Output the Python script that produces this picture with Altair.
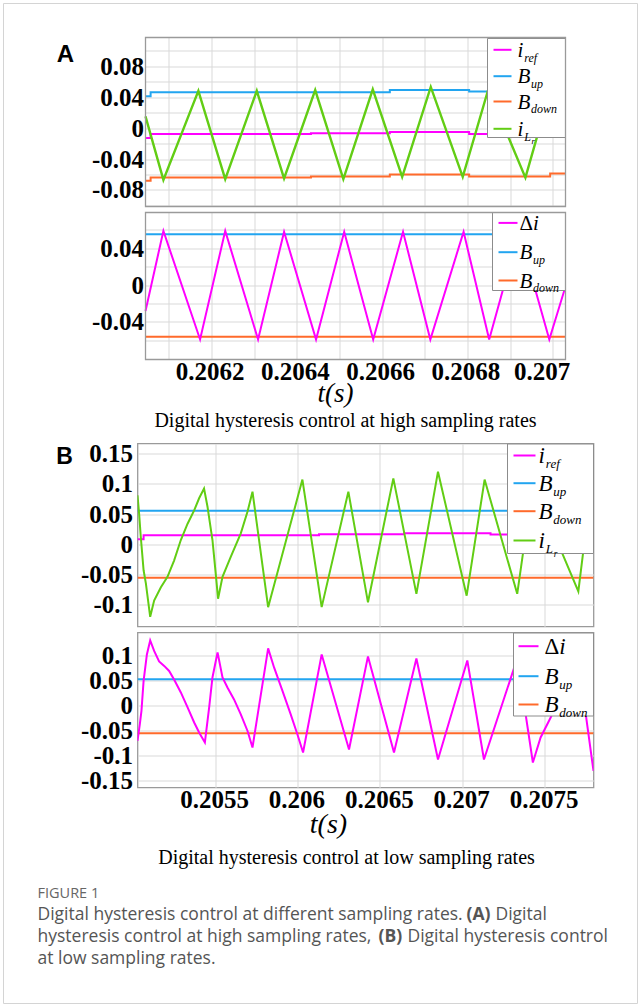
import altair as alt
import pandas as pd

# ---------------- data ----------------
# Panel A, upper plot
A_T_ILR = [0.206045, 0.206087, 0.206169, 0.206232, 0.206306, 0.206370, 0.206443, 0.206509,
           0.206578, 0.206647, 0.206714, 0.206789, 0.206849, 0.206936, 0.206994, 0.207031]
A_ILR = [0.015, -0.067, 0.048, -0.066, 0.048, -0.065, 0.049, -0.066,
         0.050, -0.063, 0.053, -0.063, 0.050, -0.064, 0.048, -0.005]
A_T_STEP = [0.206045, 0.206057, 0.206433, 0.206618, 0.206804, 0.206994, 0.207031]
A_IREF = [-0.013, -0.0076, -0.0067, -0.0053, -0.0076, -0.0076, -0.0076]
A_BUP = [0.041, 0.046, 0.046, 0.049, 0.047, 0.047, 0.047]
A_BDOWN = [-0.068, -0.064, -0.0627, -0.060, -0.0627, -0.0587, -0.0587]

# Panel A, lower plot
A_T_DI = [0.206045, 0.206087, 0.206173, 0.206232, 0.206309, 0.206370, 0.206445, 0.206511,
          0.206579, 0.206649, 0.206713, 0.206791, 0.206851, 0.206921, 0.206992, 0.207031]
A_DI = [-0.028, 0.059, -0.059, 0.059, -0.059, 0.058, -0.059, 0.058,
        -0.059, 0.058, -0.059, 0.058, -0.059, 0.058, -0.059, 0.0]
A_T_BAND = [0.206045, 0.207031]
A_BUP2 = [0.0553, 0.0553]
A_BDOWN2 = [-0.056, -0.056]

# Panel B, upper plot
B_T_ILR = [0.205029, 0.205039, 0.205049, 0.205066, 0.205080, 0.205106, 0.205130, 0.205171,
           0.205211, 0.205251, 0.205292, 0.205333, 0.205373, 0.205403, 0.205433, 0.205454,
           0.205484, 0.205504, 0.205518, 0.205545, 0.205595, 0.205656, 0.205697, 0.205727,
           0.205822, 0.206030, 0.206147, 0.206309, 0.206428, 0.206582, 0.206722, 0.206853,
           0.207027, 0.207136, 0.207334, 0.207429, 0.207705, 0.207797]
B_ILR = [0.081, 0.050, 0.012, -0.043, -0.065, -0.120, -0.093, -0.071,
         -0.054, -0.027, 0.007, 0.034, 0.056, 0.076, 0.092, 0.062,
         0.007, -0.049, -0.090, -0.054, -0.021, 0.018, 0.054, 0.087,
         -0.104, 0.107, -0.104, 0.087, -0.096, 0.109, -0.082, 0.120,
         -0.085, 0.107, -0.082, 0.100, -0.078, 0.125]
B_T_IREF = [0.205029, 0.205066, 0.206131, 0.206647, 0.207172, 0.207797]
B_IREF = [0.0083, 0.0149, 0.0166, 0.0182, 0.016, 0.016]
B_T_BAND = [0.205029, 0.207797]
B_BUP = [0.0552, 0.0552]
B_BDOWN = [-0.0552, -0.0552]

# Panel B, lower plot
B_T_DI = [0.205029, 0.205043, 0.205053, 0.205066, 0.205086, 0.205106, 0.205130, 0.205160,
          0.205191, 0.205221, 0.205251, 0.205292, 0.205333, 0.205373, 0.205403, 0.205438,
          0.205464, 0.205484, 0.205515, 0.205545, 0.205575, 0.205615, 0.205656, 0.205697,
          0.205727, 0.205822, 0.205858, 0.205909, 0.205959, 0.206000, 0.206034, 0.206147,
          0.206313, 0.206428, 0.206586, 0.206722, 0.206853, 0.207031, 0.207132, 0.207334,
          0.207429, 0.207476, 0.207537, 0.207705, 0.207797]
B_DI = [-0.070, -0.037, -0.010, 0.050, 0.103, 0.131, 0.110, 0.089,
        0.080, 0.070, 0.053, 0.027, -0.003, -0.033, -0.053, -0.073,
        -0.003, 0.057, 0.107, 0.057, 0.037, 0.013, -0.017, -0.050,
        -0.083, 0.115, 0.077, 0.030, -0.017, -0.057, -0.093, 0.103,
        -0.087, 0.099, -0.093, 0.095, -0.107, 0.091, -0.107, 0.095,
        -0.113, -0.063, -0.023, 0.092, -0.130]
B_BUP2 = [0.0535, 0.0535]
B_BDOWN2 = [-0.0547, -0.0547]

# axis ticks / grids
A_XGRID = [0.2061, 0.2062, 0.2063, 0.2064, 0.2065, 0.2066, 0.2067, 0.2068, 0.2069, 0.207]
A_YGRID_TOP = [-0.1, -0.08, -0.06, -0.04, -0.02, 0, 0.02, 0.04, 0.06, 0.08, 0.1]
A_YGRID_BOT = [-0.06, -0.04, -0.02, 0, 0.02, 0.04, 0.06]
B_XGRID = [0.2055, 0.206, 0.2065, 0.207, 0.2075]
B_YGRID_TOP = [-0.1, -0.05, 0, 0.05, 0.1, 0.15]
B_YGRID_BOT = [-0.15, -0.1, -0.05, 0, 0.05, 0.1]

# ---------------- styling ----------------
SERIF = "Liberation Serif"
SANS = "Open Sans"
MAG = "#ff00ff"
BLUE = "#22a5f0"
ORANGE = "#ff6a2b"
GREEN = "#62cd14"
GRID = "#d9d9d9"
BORDER = "#9a9a9a"
DUMMY = pd.DataFrame({"d": [0]})
TICK_FS = 25

OX = 8  # panel A plots sit 8 px to the right of panel B plots
A_W, A_TOP_H, A_BOT_H = 420, 169, 147
B_W, B_TOP_H, B_BOT_H = 456, 183, 155
GAP_AB = 72

sc_x_A = alt.Scale(domain=[0.206045, 0.20703], range=[OX, OX + A_W], nice=False, zero=False)
sc_x_B = alt.Scale(domain=[0.205029, 0.207797], nice=False, zero=False)
sc_y_At = alt.Scale(domain=[-0.1013, 0.1168], nice=False, zero=False)
sc_y_Ab = alt.Scale(domain=[-0.0808, 0.079], nice=False, zero=False)
sc_y_Bt = alt.Scale(domain=[-0.136, 0.1666], nice=False, zero=False)
sc_y_Bb = alt.Scale(domain=[-0.163, 0.1468], nice=False, zero=False)

MINUS_FIX = "replace(datum.label, '\u2212', '-')"


def yaxis(values, label_expr, pad, offset=0):
    return alt.Axis(values=values, labelExpr=label_expr, format=".2~f", labelPadding=pad,
                    grid=True, gridColor=GRID, gridWidth=1, ticks=False, tickSize=0,
                    domain=False, title=None, labelFont=SERIF, labelFontWeight="bold",
                    labelFontSize=TICK_FS, labelColor="black", labelOverlap=False,
                    labelBaseline="middle", labelFlush=False, offset=offset)


def xaxis(values, labels, label_expr="datum.label", offset=None):
    kw = dict(values=values, format=".4~f", grid=True, gridColor=GRID, gridWidth=1,
              ticks=False, tickSize=0, domain=False, title=None, labels=labels,
              labelFont=SERIF, labelFontWeight="bold", labelFontSize=TICK_FS, labelColor="black",
              labelOverlap=False, labelBaseline="middle", labelPadding=12, labelFlush=False,
              labelExpr=label_expr)
    if offset is not None:
        kw["labelOffset"] = offset
    return alt.Axis(**kw)


def series(t, v, color, xs, ys, xa, ya, interp="linear", width=2.0):
    df = pd.DataFrame({"t": t, "v": v})
    return alt.Chart(df).mark_line(color=color, strokeWidth=width, interpolate=interp,
                                   clip=True).encode(
        x=alt.X("t:Q", scale=xs, axis=xa),
        y=alt.Y("v:Q", scale=ys, axis=ya))


def txt(s, x, y, size, font=SERIF, style="italic", weight="normal", align="left",
        baseline="alphabetic", color="black"):
    return alt.Chart(DUMMY).mark_text(text=s, font=font, fontSize=size, fontStyle=style,
                                      fontWeight=weight, align=align, baseline=baseline,
                                      color=color).encode(x=alt.value(x), y=alt.value(y))


def box(x1, x2, y1, y2, stroke, width=1.0, fill=None):
    kw = dict(stroke=stroke, strokeWidth=width)
    if fill is None:
        kw["fillOpacity"] = 0
    else:
        kw["fill"] = fill
    return alt.Chart(DUMMY).mark_rect(**kw).encode(
        x=alt.value(x1), x2=alt.value(x2), y=alt.value(y1), y2=alt.value(y2))


def label_parts(kind, lx, y, M, S):
    base = y + 0.34 * M
    sub = base + 0.22 * M
    if kind == "iref":
        return [txt("i", lx, base, M), txt("ref", lx + 0.32 * M, sub, S)]
    if kind == "bup":
        return [txt("B", lx, base, M), txt("up", lx + 0.64 * M, sub, S)]
    if kind == "bdown":
        return [txt("B", lx, base, M), txt("down", lx + 0.64 * M, sub, S)]
    if kind == "ilr":
        return [txt("i", lx, base, M), txt("L", lx + 0.32 * M, sub, S),
                txt("r", lx + 0.32 * M + 0.6 * S, sub + 0.28 * S, 0.72 * S)]
    if kind == "di":
        return [txt("\u0394", lx, base, M, style="normal"), txt("i", lx + 0.64 * M, base, M)]
    return []


def legend(bx, entries, line_x, lab_x, M, S):
    x1, x2, y1, y2 = bx
    layers = [box(x1, x2, y1, y2, "#8c8c8c", 1, fill="white")]
    for kind, color, y in entries:
        layers.append(alt.Chart(DUMMY).mark_rule(color=color, strokeWidth=2).encode(
            x=alt.value(line_x[0]), x2=alt.value(line_x[1]), y=alt.value(y)))
        layers += label_parts(kind, lab_x, y, M, S)
    return layers


LBL_EVEN = "(round(datum.value*50) % 2 == 0) ? " + MINUS_FIX + " : ''"
LBL_ALL = MINUS_FIX
LBL_XA = "(round(datum.value*10000) % 2 == 0) ? datum.label : ''"
NO_STROKE = alt.ViewBackground(stroke="transparent", strokeWidth=0)

# ---------------- Panel A, upper ----------------
xa_At = xaxis(A_XGRID, False)
ya_At = yaxis(A_YGRID_TOP, LBL_EVEN, 2, offset=-OX)
A_top = alt.layer(
    box(-134, 500, -34, 966, "#d4d4d4", 1),
    series(A_T_STEP, A_BUP, BLUE, sc_x_A, sc_y_At, xa_At, ya_At, "step-after"),
    series(A_T_STEP, A_BDOWN, ORANGE, sc_x_A, sc_y_At, xa_At, ya_At, "step-after"),
    series(A_T_STEP, A_IREF, MAG, sc_x_A, sc_y_At, xa_At, ya_At, "step-after"),
    series(A_T_ILR, A_ILR, GREEN, sc_x_A, sc_y_At, xa_At, ya_At, width=2.4),
    *legend((OX + 342, OX + 420, 1, 100),
            [("iref", MAG, 12.3), ("bup", BLUE, 38.7), ("bdown", ORANGE, 64), ("ilr", GREEN, 91.3)],
            (OX + 348, OX + 366), OX + 372, 21, 12),
    box(OX, OX + A_W, 0, A_TOP_H, BORDER, 1.3),
    txt("A", -72, 24, 24, font="Liberation Sans", style="normal", weight="bold", align="center"),
).properties(width=OX + A_W, height=A_TOP_H, view=NO_STROKE)

# ---------------- Panel A, lower ----------------
xa_Ab = xaxis(A_XGRID, True, LBL_XA,
              {"condition": {"test": "datum.value > 0.20699", "value": -11}, "value": -2})
ya_Ab = yaxis(A_YGRID_BOT, LBL_EVEN, 2, offset=-OX)
A_bot = alt.layer(
    series(A_T_BAND, A_BUP2, BLUE, sc_x_A, sc_y_Ab, xa_Ab, ya_Ab),
    series(A_T_BAND, A_BDOWN2, ORANGE, sc_x_A, sc_y_Ab, xa_Ab, ya_Ab),
    series(A_T_DI, A_DI, MAG, sc_x_A, sc_y_Ab, xa_Ab, ya_Ab),
    *legend((OX + 347, OX + 420, 0, 78),
            [("di", MAG, 10.4), ("bup", BLUE, 39.7), ("bdown", ORANGE, 68)],
            (OX + 353, OX + 372), OX + 374, 21, 12),
    box(OX, OX + A_W, 0, A_BOT_H, BORDER, 1.3),
    txt("t(s)", OX + 190, 181, 27, baseline="middle", align="center"),
    txt("Digital hysteresis control at high sampling rates", OX + 200, 208, 20, style="normal",
        baseline="middle", align="center"),
).properties(width=OX + A_W, height=A_BOT_H, view=NO_STROKE)

# ---------------- Panel B, upper ----------------
xa_Bt = xaxis(B_XGRID, False)
ya_Bt = yaxis(B_YGRID_TOP, LBL_ALL, 5)
B_top = alt.layer(
    series(B_T_BAND, B_BUP, BLUE, sc_x_B, sc_y_Bt, xa_Bt, ya_Bt),
    series(B_T_BAND, B_BDOWN, ORANGE, sc_x_B, sc_y_Bt, xa_Bt, ya_Bt),
    series(B_T_IREF, B_IREF, MAG, sc_x_B, sc_y_Bt, xa_Bt, ya_Bt, "step-after"),
    series(B_T_ILR, B_ILR, GREEN, sc_x_B, sc_y_Bt, xa_Bt, ya_Bt),
    *legend((370, 456, 0.5, 110),
            [("iref", MAG, 12), ("bup", BLUE, 39.7), ("bdown", ORANGE, 67.7), ("ilr", GREEN, 97)],
            (376, 398), 401, 23, 13),
    txt("B", -73, 20.5, 23, font="Liberation Sans", style="normal", weight="bold", align="center"),
).properties(width=B_W, height=B_TOP_H)

# ---------------- Panel B, lower ----------------
xa_Bb = xaxis(B_XGRID, True, "datum.label", -1)
ya_Bb = yaxis(B_YGRID_BOT, LBL_ALL, 5)
CAP = "#555555"
CFS = 17.5
B_bot = alt.layer(
    series(B_T_BAND, B_BUP2, BLUE, sc_x_B, sc_y_Bb, xa_Bb, ya_Bb),
    series(B_T_BAND, B_BDOWN2, ORANGE, sc_x_B, sc_y_Bb, xa_Bb, ya_Bb),
    series(B_T_DI, B_DI, MAG, sc_x_B, sc_y_Bb, xa_Bb, ya_Bb),
    *legend((376, 456, 0.5, 83.5),
            [("di", MAG, 13.7), ("bup", BLUE, 43.7), ("bdown", ORANGE, 72)],
            (381, 401), 407, 23, 13),
    txt("t(s)", 191, 192, 28, baseline="middle", align="center"),
    txt("Digital hysteresis control at low sampling rates", 209, 225, 20, style="normal",
        baseline="middle", align="center"),
    txt("FIGURE 1", -100, 261, 14.5, font=SANS, style="normal", baseline="middle", color="#666666"),
    txt("Digital hysteresis control at different sampling rates.", -100, 282, CFS, font=SANS,
        style="normal", baseline="middle", color=CAP),
    txt("(A)", 329, 282, CFS, font=SANS, style="normal", weight="bold", baseline="middle", color=CAP),
    txt("Digital", 358, 282, CFS, font=SANS, style="normal", baseline="middle", color=CAP),
    txt("hysteresis control at high sampling rates,", -100, 304, CFS, font=SANS, style="normal",
        baseline="middle", color=CAP),
    txt("(B)", 241, 304, CFS, font=SANS, style="normal", weight="bold", baseline="middle", color=CAP),
    txt("Digital hysteresis control", 270, 304, CFS, font=SANS, style="normal",
        baseline="middle", color=CAP),
    txt("at low sampling rates.", -100, 326, CFS, font=SANS, style="normal", baseline="middle",
        color=CAP),
).properties(width=B_W, height=B_BOT_H)

spacer = alt.Chart(DUMMY).mark_point(opacity=0).encode(
    x=alt.value(0), y=alt.value(0)).properties(width=1, height=GAP_AB, view=NO_STROKE)

chart = alt.vconcat(A_top, A_bot, spacer, B_top, B_bot, spacing=6, bounds="flush").properties(
    padding={"left": 2.5, "top": 2.5, "right": 0, "bottom": 0},
    background="white",
).configure_view(stroke=BORDER, strokeWidth=1.3)

chart.save("out.html", embed_options={"renderer": "svg", "actions": False})
